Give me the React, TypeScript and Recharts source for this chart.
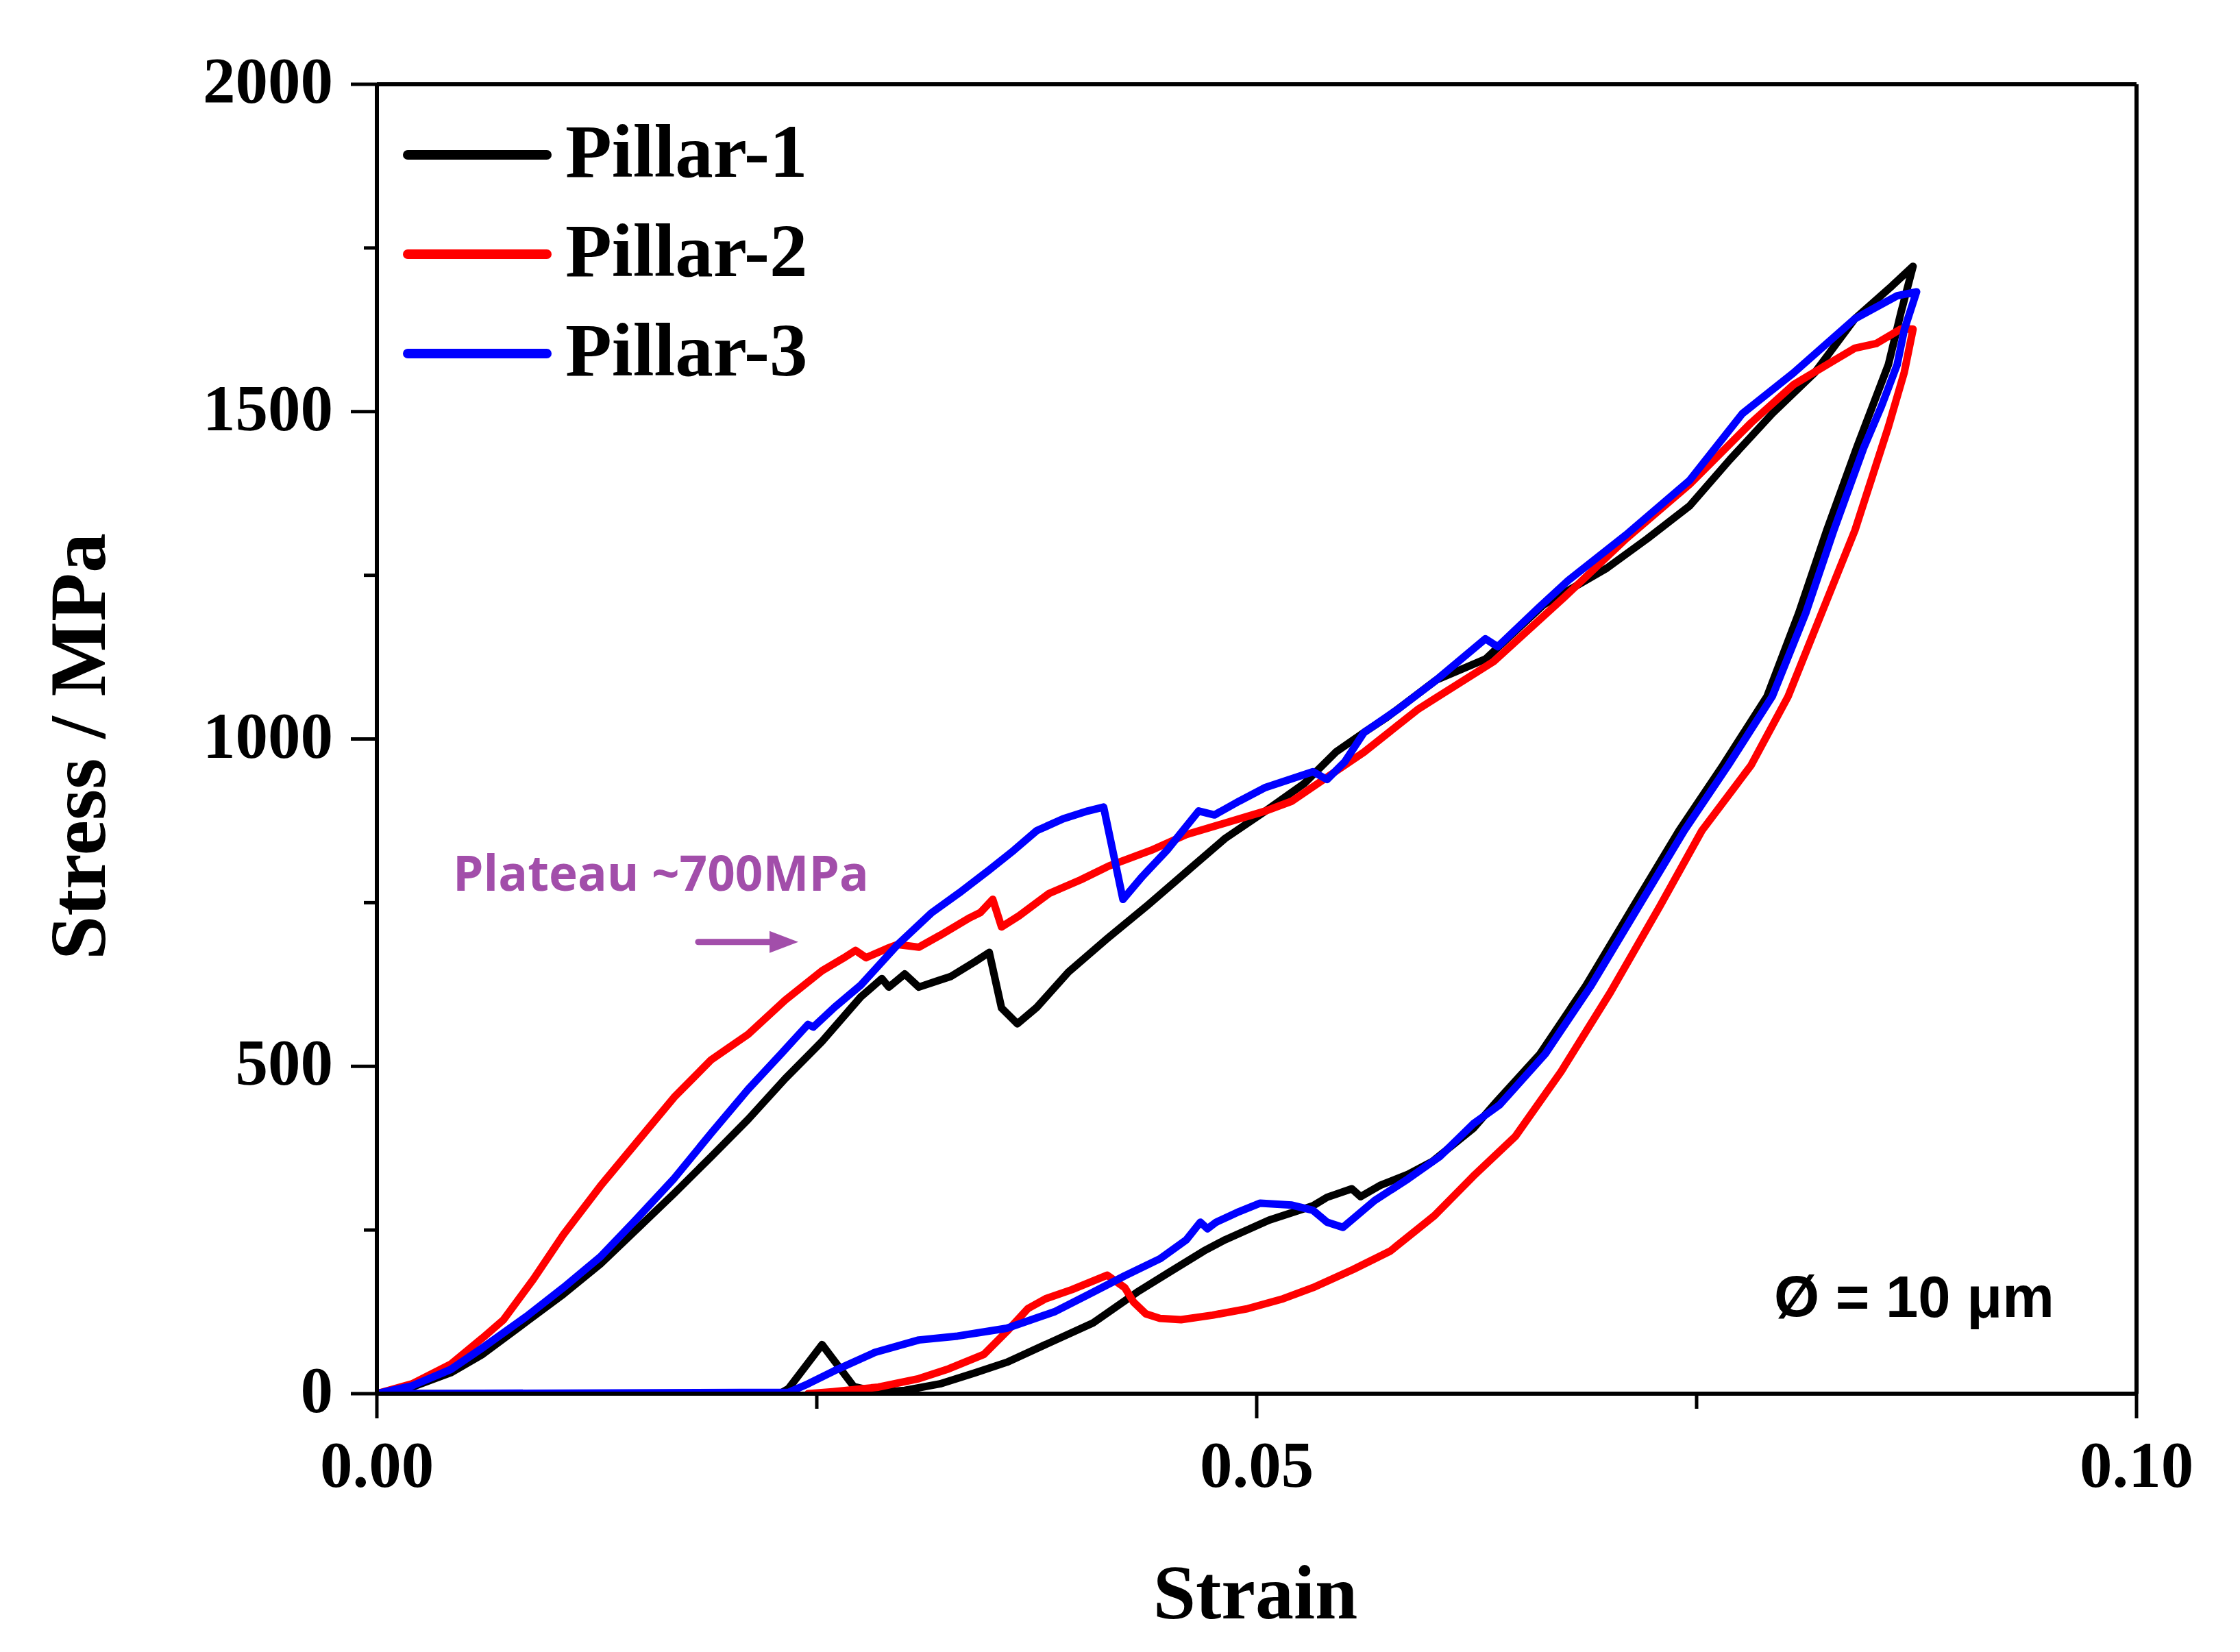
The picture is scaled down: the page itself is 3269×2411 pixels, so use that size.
import React from 'react';
import { LineChart, Line, XAxis, YAxis, Legend, ReferenceLine, ReferenceDot, Label } from 'recharts';

// ---------- data (strain, stress MPa) ----------
const pillar1Loading: [number, number][] = [
  [0, 0], [0.002, 10], [0.0042, 32], [0.006, 60], [0.0085, 110], [0.0106, 152], [0.0127, 198],
  [0.0148, 252], [0.0169, 306], [0.019, 362], [0.0211, 419], [0.0232, 481], [0.0253, 538],
  [0.0275, 606], [0.0287, 634], [0.0291, 621], [0.03, 641], [0.0308, 621], [0.0318, 630],
  [0.0326, 637], [0.034, 660], [0.0348, 674], [0.0355, 589], [0.0364, 565], [0.0375, 590],
  [0.0393, 644], [0.0415, 695], [0.0438, 746], [0.046, 797], [0.0482, 848], [0.0505, 890],
  [0.0527, 932], [0.0545, 980], [0.0561, 1010], [0.0574, 1033], [0.0602, 1090], [0.063, 1122],
  [0.0663, 1205], [0.0699, 1261], [0.0722, 1306], [0.0746, 1356], [0.0769, 1427], [0.0793, 1497],
  [0.0817, 1559], [0.084, 1642], [0.0861, 1692], [0.0873, 1722],
];
const pillar1Unloading: [number, number][] = [
  [0.0866, 1650], [0.0859, 1572], [0.0841, 1445], [0.0824, 1319], [0.0808, 1192], [0.079, 1065],
  [0.0765, 960], [0.074, 860], [0.0714, 744], [0.0687, 623], [0.0661, 519], [0.0636, 445],
  [0.0623, 405], [0.06, 355], [0.0586, 335], [0.057, 318], [0.0559, 301], [0.0554, 313],
  [0.054, 300], [0.0532, 287], [0.0507, 265], [0.0482, 235], [0.047, 218], [0.045, 185],
  [0.0432, 155], [0.0407, 108], [0.038, 75], [0.0358, 48], [0.034, 32], [0.032, 15], [0.03, 5],
  [0.0285, 2], [0.0271, 11], [0.0253, 75], [0.0234, 8], [0.0229, 0], [0.001, 0],
];
const pillar2Loading: [number, number][] = [
  [0, 0], [0.002, 15], [0.0042, 45], [0.006, 85], [0.0072, 113], [0.0089, 175], [0.0106, 243],
  [0.0127, 317], [0.0148, 385], [0.0169, 453], [0.019, 510], [0.0211, 549], [0.0232, 601],
  [0.0253, 646], [0.0265, 665], [0.0272, 677], [0.0278, 666], [0.029, 680], [0.0296, 686],
  [0.0308, 682], [0.032, 700], [0.0337, 727], [0.0343, 735], [0.035, 755], [0.0355, 713],
  [0.0365, 730], [0.0382, 764], [0.04, 785], [0.0416, 806], [0.044, 830], [0.046, 854],
  [0.048, 870], [0.0505, 890], [0.052, 905], [0.0538, 938], [0.0561, 980], [0.0592, 1046],
  [0.0635, 1119], [0.0675, 1217], [0.071, 1306], [0.0746, 1389], [0.0781, 1483], [0.0805, 1541],
  [0.0828, 1578], [0.084, 1597], [0.0852, 1604], [0.0866, 1626],
];
const pillar2Unloading: [number, number][] = [
  [0.0873, 1626], [0.0868, 1560], [0.0859, 1477], [0.084, 1319], [0.0821, 1192], [0.0802, 1065],
  [0.0781, 960], [0.0753, 860], [0.0729, 744], [0.0701, 613], [0.0673, 492], [0.0647, 393],
  [0.0623, 332], [0.0601, 272], [0.0576, 218], [0.0555, 190], [0.0532, 162], [0.0515, 145],
  [0.0495, 130], [0.0475, 120], [0.0457, 113], [0.0445, 115], [0.0437, 122], [0.043, 140],
  [0.0425, 162], [0.0415, 181], [0.0405, 170], [0.0395, 159], [0.038, 145], [0.037, 130],
  [0.0358, 95], [0.0345, 60], [0.0325, 38], [0.0308, 23], [0.0285, 10], [0.0259, 3], [0.0245, 0],
];
const pillar3Loading: [number, number][] = [
  [0, 0], [0.002, 12], [0.0042, 37], [0.006, 70], [0.0085, 118], [0.0106, 162], [0.0127, 209],
  [0.0148, 268], [0.0169, 329], [0.019, 398], [0.0211, 465], [0.023, 520], [0.0245, 564],
  [0.0248, 560], [0.026, 590], [0.0275, 624], [0.0296, 686], [0.0315, 734], [0.0331, 765],
  [0.0348, 800], [0.0362, 830], [0.0375, 860], [0.039, 878], [0.0404, 890], [0.0413, 896],
  [0.0424, 755], [0.0435, 790], [0.0449, 830], [0.0467, 890], [0.0476, 884], [0.049, 905],
  [0.0505, 926], [0.0532, 950], [0.054, 938], [0.055, 965], [0.0561, 1010], [0.058, 1045],
  [0.0602, 1090], [0.063, 1153], [0.0637, 1141], [0.066, 1200], [0.0677, 1242], [0.071, 1312],
  [0.0746, 1395], [0.0776, 1497], [0.0805, 1559], [0.084, 1642], [0.0864, 1677], [0.0875, 1683],
];
const pillar3Unloading: [number, number][] = [
  [0.0868, 1625], [0.0864, 1572], [0.0855, 1508], [0.0845, 1445], [0.0828, 1319], [0.0812, 1192],
  [0.0793, 1065], [0.0768, 960], [0.0743, 860], [0.0717, 744], [0.069, 623], [0.0664, 519],
  [0.0638, 441], [0.0623, 412], [0.0604, 362], [0.0586, 328], [0.0567, 295], [0.0549, 254],
  [0.054, 262], [0.0532, 280], [0.052, 288], [0.0502, 291], [0.049, 278], [0.0477, 262],
  [0.0472, 252], [0.0468, 262], [0.046, 235], [0.0445, 206], [0.0425, 180], [0.0407, 155],
  [0.0385, 125], [0.0358, 100], [0.033, 88], [0.0308, 82], [0.0283, 63], [0.026, 35],
  [0.0245, 15], [0.0234, 2], [0.001, 0],
];

const seriesNames = ['Pillar-1', 'Pillar-2', 'Pillar-3'];
const seriesColors = ['#000000', '#ff0000', '#0000ff'];

const strainTicks = [0, 0.025, 0.05, 0.075, 0.1];
const strainMajor = [0, 0.05, 0.1];
const stressTicks = [0, 250, 500, 750, 1000, 1250, 1500, 1750, 2000];
const stressMajor = [0, 500, 1000, 1500, 2000];

const plateauText = 'Plateau ~700MPa';
const plateauAnchor = { x: 0.00432, y: 768 };
const arrowFrom = { x: 0.01826, y: 690 };
const arrowTo = { x: 0.02395, y: 690 };
const diameterText = 'Ø = 10 μm';
const diameterAnchor = { x: 0.0794, y: 117 };

const toPoints = (seg: [number, number][]) => seg.map(([x, y]) => ({ x, y }));
const seriesData = [
  toPoints([...pillar1Loading, ...pillar1Unloading]),
  toPoints([...pillar2Loading, ...pillar2Unloading]),
  toPoints([...pillar3Loading, ...pillar3Unloading]),
];

const SERIF = '"Liberation Serif", "Times New Roman", serif';
const SANS = '"Liberation Sans", Arial, sans-serif';
const PURPLE = '#a24eaa';

const XTick = (props: any) => {
  const { x, y, payload } = props;
  const v = payload.value;
  const major = strainMajor.some((m) => Math.abs(m - v) < 1e-9);
  return (
    <g>
      <line x1={x} y1={y} x2={x} y2={y + (major ? 36 : 22)} stroke="#000" strokeWidth={5} />
      {major && (
        <text x={x} y={y + 136} textAnchor="middle" fontFamily={SERIF} fontWeight={700} fontSize={95} fill="#000">
          {v.toFixed(2)}
        </text>
      )}
    </g>
  );
};

const YTick = (props: any) => {
  const { x, y, payload } = props;
  const v = payload.value;
  const major = stressMajor.includes(v);
  return (
    <g>
      <line x1={x - (major ? 38 : 19)} y1={y} x2={x} y2={y} stroke="#000" strokeWidth={5} />
      {major && (
        <text x={x - 64} y={y + 27} textAnchor="end" fontFamily={SERIF} fontWeight={700} fontSize={95} fill="#000">
          {v}
        </text>
      )}
    </g>
  );
};

const LegendContent = () => (
  <svg width={760} height={450} style={{ display: 'block' }}>
    {seriesNames.map((name, i) => (
      <g key={name}>
        <line x1={27} x2={230} y1={68 + i * 145} y2={68 + i * 145} stroke={seriesColors[i]} strokeWidth={14} strokeLinecap="round" />
        <text x={257} y={100 + i * 145} fontFamily={SERIF} fontWeight={700} fontSize={111} fill="#000">
          {name}
        </text>
      </g>
    ))}
  </svg>
);

export default function App() {
  return (
    <LineChart width={3253} height={2395} margin={{ top: 115, right: 143, bottom: 10, left: 42 }}>
      <XAxis
        dataKey="x"
        type="number"
        domain={[0, 0.1]}
        ticks={strainTicks}
        interval={0}
        tickSize={0}
        tickMargin={0}
        tickLine={false}
        tick={(p: any) => <XTick {...p} />}
        axisLine={{ stroke: '#000', strokeWidth: 6 }}
        height={359}
        allowDataOverflow
      >
        <Label
          content={(p: any) => {
            const vb = p.viewBox;
            return (
              <text x={vb.x + vb.width / 2 - 2} y={vb.y + 328} textAnchor="middle" fontFamily={SERIF} fontWeight={700} fontSize={112} fill="#000">
                Strain
              </text>
            );
          }}
        />
      </XAxis>
      <YAxis
        dataKey="y"
        type="number"
        domain={[0, 2000]}
        ticks={stressTicks}
        interval={0}
        tickSize={0}
        tickMargin={0}
        tickLine={false}
        tick={(p: any) => <YTick {...p} />}
        axisLine={{ stroke: '#000', strokeWidth: 6 }}
        width={500}
        allowDataOverflow
      >
        <Label
          content={(p: any) => {
            const vb = p.viewBox;
            const cx = vb.x + 103;
            const cy = vb.y + vb.height / 2 + 11;
            return (
              <text x={cx} y={cy} transform={`rotate(-90 ${cx} ${cy})`} textAnchor="middle" fontFamily={SERIF} fontWeight={700} fontSize={116} fill="#000">
                Stress / MPa
              </text>
            );
          }}
        />
      </YAxis>
      <ReferenceLine y={2000} stroke="#000" strokeWidth={6} />
      <ReferenceLine x={0.1} stroke="#000" strokeWidth={6} />
      {seriesData.map((d, i) => (
        <Line
          key={seriesNames[i]}
          data={d}
          dataKey="y"
          name={seriesNames[i]}
          type="linear"
          stroke={seriesColors[i]}
          strokeWidth={11}
          strokeLinejoin="round"
          strokeLinecap="round"
          dot={false}
          activeDot={false}
          isAnimationActive={false}
        />
      ))}
      <ReferenceLine
        segment={[arrowFrom, arrowTo]}
        shape={(p: any) => (
          <g>
            <line x1={p.x1} y1={p.y1} x2={p.x2 - 30} y2={p.y2} stroke={PURPLE} strokeWidth={9} strokeLinecap="round" />
            <polygon points={`${p.x2},${p.y2} ${p.x2 - 42},${p.y2 - 16} ${p.x2 - 42},${p.y2 + 16}`} fill={PURPLE} />
          </g>
        )}
      />
      <ReferenceDot
        x={plateauAnchor.x}
        y={plateauAnchor.y}
        r={0}
        shape={(p: any) => (
          <text x={p.cx} y={p.cy} fontFamily='"Open Sans", sans-serif' fontWeight={700} fontSize={72} fill={PURPLE} textLength={607} lengthAdjust="spacingAndGlyphs">
            {plateauText}
          </text>
        )}
      />
      <ReferenceDot
        x={diameterAnchor.x}
        y={diameterAnchor.y}
        r={0}
        shape={(p: any) => (
          <text x={p.cx} y={p.cy} fontFamily={SANS} fontWeight={700} fontSize={85} fill="#000">
            {diameterText}
          </text>
        )}
      />
      <Legend
        layout="vertical"
        align="center"
        verticalAlign="middle"
        wrapperStyle={{ left: 560, top: 150, width: 760, height: 450 }}
        content={() => <LegendContent />}
      />
    </LineChart>
  );
}
